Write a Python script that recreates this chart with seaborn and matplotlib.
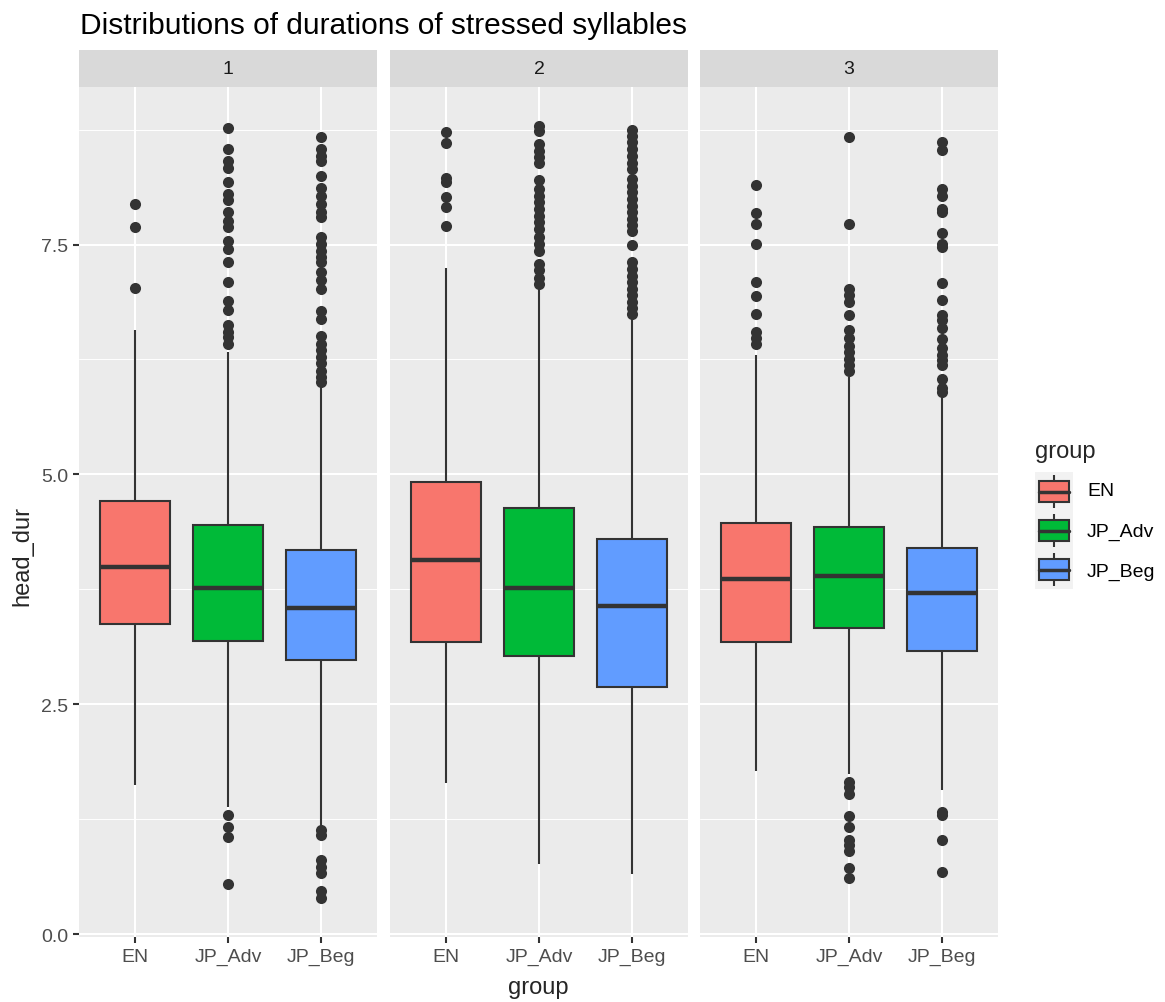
import numpy as np
import pandas as pd
import matplotlib
matplotlib.use("Agg")
import matplotlib.pyplot as plt
from matplotlib.patches import Rectangle
from matplotlib.ticker import MultipleLocator, FormatStrFormatter
import seaborn as sns

# ---------------------------------------------------------------- data
facets = ["1", "2", "3"]
groups = ["EN", "JP_Adv", "JP_Beg"]
group_colors = ["#F8766D", "#00BA38", "#619CFF"]

# box summaries per facet: lower whisker end, Q1, median, Q3, upper whisker end
box_1 = {
    "EN": [1.62, 3.37, 3.99, 4.71, 6.57],
    "JP_Adv": [1.38, 3.19, 3.76, 4.45, 6.33],
    "JP_Beg": [1.18, 2.98, 3.55, 4.18, 5.95],
}
box_2 = {
    "EN": [1.64, 3.18, 4.07, 4.92, 7.24],
    "JP_Adv": [0.76, 3.03, 3.76, 4.63, 7.02],
    "JP_Beg": [0.66, 2.69, 3.57, 4.30, 6.70],
}
box_3 = {
    "EN": [1.78, 3.18, 3.86, 4.47, 6.30],
    "JP_Adv": [1.74, 3.33, 3.90, 4.43, 6.06],
    "JP_Beg": [1.57, 3.08, 3.71, 4.20, 5.85],
}

# points beyond the whiskers
out_1 = {
    "EN": [7.94, 7.69, 7.03],
    "JP_Adv": [8.77, 8.54, 8.41, 8.33, 8.18, 8.05, 7.98, 7.85, 7.76, 7.69,
               7.54, 7.45, 7.31, 7.09, 6.89, 6.79, 6.62, 6.55, 6.50, 6.42,
               1.30, 1.17, 1.06, 0.55],
    "JP_Beg": [8.67, 8.54, 8.46, 8.41, 8.25, 8.12, 8.03, 7.94, 7.85, 7.80,
               7.58, 7.51, 7.43, 7.36, 7.31, 7.20, 7.11, 7.02, 6.78, 6.69,
               6.51, 6.42, 6.35, 6.28, 6.21, 6.13, 6.06, 6.01,
               1.13, 1.08, 0.81, 0.73, 0.67, 0.47, 0.39],
}
out_2 = {
    "EN": [8.72, 8.60, 8.22, 8.18, 8.02, 7.91, 7.70],
    "JP_Adv": [8.79, 8.74, 8.59, 8.52, 8.45, 8.39, 8.20, 8.10, 8.03, 7.96,
               7.89, 7.81, 7.74, 7.67, 7.58, 7.51, 7.43, 7.29, 7.22, 7.14,
               7.07],
    "JP_Beg": [8.75, 8.68, 8.61, 8.54, 8.46, 8.39, 8.32, 8.21, 8.14, 8.07,
               7.99, 7.92, 7.85, 7.78, 7.71, 7.65, 7.49, 7.31, 7.23, 7.16,
               7.09, 7.02, 6.95, 6.88, 6.81, 6.75],
}
out_3 = {
    "EN": [8.15, 7.84, 7.72, 7.51, 7.09, 6.94, 6.74, 6.55, 6.48, 6.42],
    "JP_Adv": [8.67, 7.72, 7.02, 6.95, 6.87, 6.73, 6.57, 6.48, 6.40, 6.33,
               6.26, 6.19, 6.12,
               1.66, 1.60, 1.53, 1.29, 1.17, 1.03, 0.97, 0.90, 0.72, 0.61],
    "JP_Beg": [8.61, 8.53, 8.10, 8.03, 7.89, 7.85, 7.63, 7.51, 7.47, 7.08,
               6.90, 6.73, 6.68, 6.59, 6.47, 6.37, 6.30, 6.24, 6.19, 6.04,
               5.94, 5.90,
               1.33, 1.30, 1.02, 0.68],
}

boxes = [box_1, box_2, box_3]
outs = [out_1, out_2, out_3]

box_df = pd.DataFrame(
    [(f, g, v) for f, b in zip(facets, boxes) for g in groups for v in b[g]],
    columns=["facet", "group", "head_dur"],
)
out_df = pd.DataFrame(
    [(f, g, v) for f, o in zip(facets, outs) for g in groups for v in o[g]],
    columns=["facet", "group", "head_dur"],
)

# ---------------------------------------------------------------- style
sns.set_theme(style="darkgrid", rc={
    "axes.facecolor": "#EBEBEB",
    "grid.color": "white",
    "axes.edgecolor": "none",
    "xtick.bottom": True,
    "ytick.left": True,
    "xtick.major.size": 4.5,
    "ytick.major.size": 4.5,
    "xtick.major.width": 1.5,
    "ytick.major.width": 1.5,
    "xtick.color": "#333333",
    "ytick.color": "#333333",
    "xtick.labelcolor": "#4D4D4D",
    "ytick.labelcolor": "#4D4D4D",
    "xtick.major.pad": 3.5,
    "ytick.major.pad": 3.5,
    "xtick.labelsize": 14,
    "ytick.labelsize": 14,
})
plt.rcParams["font.family"] = ["Liberation Sans", "DejaVu Sans"]

W, H = 1165, 1003
fig = plt.figure(figsize=(W / 100, H / 100), dpi=100)


def fx(px):
    return px / W


def fy(py):
    return 1 - py / H


all_vals = pd.concat([box_df["head_dur"], out_df["head_dur"]])
lo, hi = all_vals.min(), all_vals.max()
pad = 0.05 * (hi - lo)

panel_left = [79, 390, 700]
panel_w = 298
panel_top, panel_bot = 88.3, 938
strip_top = 50.7

panels = []
for i, f in enumerate(facets):
    ax = fig.add_axes([fx(panel_left[i]), fy(panel_bot), fx(panel_w),
                       (panel_bot - panel_top) / H])
    sns.boxplot(
        data=box_df[box_df["facet"] == f], x="group", y="head_dur",
        hue="group", order=groups, hue_order=groups, palette=group_colors,
        saturation=1, width=0.75, whis=(0, 100), showcaps=False,
        showfliers=False, linecolor="#333333", linewidth=1.5,
        medianprops={"linewidth": 3.2}, legend=False, ax=ax,
    )
    sns.stripplot(
        data=out_df[out_df["facet"] == f], x="group", y="head_dur",
        order=groups, jitter=False, color="#333333", size=8, linewidth=0,
        ax=ax,
    )
    ax.set_xlim(-0.6, len(groups) - 0.4)
    ax.set_ylim(lo - pad, hi + pad)
    ax.yaxis.set_major_locator(MultipleLocator(2.5))
    ax.yaxis.set_minor_locator(MultipleLocator(1.25))
    ax.yaxis.set_major_formatter(FormatStrFormatter("%.1f"))
    ax.grid(False)
    ax.yaxis.grid(True, which="major", color="white", linewidth=1.5)
    ax.yaxis.grid(True, which="minor", color="white", linewidth=0.7)
    ax.xaxis.grid(True, which="major", color="white", linewidth=1.5)
    ax.set_xlabel("")
    ax.set_ylabel("")
    for s in ax.spines.values():
        s.set_visible(False)
    panels.append(ax)

    # facet strip
    sax = fig.add_axes([fx(panel_left[i]), fy(panel_top), fx(panel_w),
                        (panel_top - strip_top) / H])
    sax.set_facecolor("#D9D9D9")
    sax.set_xticks([])
    sax.set_yticks([])
    sax.grid(False)
    for s in sax.spines.values():
        s.set_visible(False)
    sax.text(0.5, 0.5, f, ha="center", va="center", fontsize=14,
             color="#1A1A1A", transform=sax.transAxes)

# titles
fig.text(fx(80), fy(26), "Distributions of durations of stressed syllables",
         fontsize=21.5, color="black", ha="left", va="center")
fig.text(fx(538), fy(988), "group", fontsize=17, ha="center", va="center")
fig.text(fx(22), fy(556), "head_dur", fontsize=17, ha="center",
         va="center", rotation=90)

# legend
fig.text(fx(1035), fy(452), "group", fontsize=17, ha="left", va="center")
lax = fig.add_axes([fx(1035), fy(590), fx(38), 117 / H])
lax.set_facecolor("#F2F2F2")
lax.set_xlim(0, 1)
lax.set_ylim(0, len(groups))
lax.set_xticks([])
lax.set_yticks([])
lax.grid(False)
for s in lax.spines.values():
    s.set_visible(False)
for k, (g, c) in enumerate(zip(groups, group_colors)):
    yc = len(groups) - k - 0.5
    lax.plot([0.5, 0.5], [yc - 0.42, yc + 0.42], color="#333333", lw=1.5,
             solid_capstyle="butt")
    lax.add_patch(Rectangle((0.1, yc - 0.26), 0.8, 0.52, facecolor=c,
                            edgecolor="#333333", lw=1.5, zorder=3))
    lax.plot([0.1, 0.9], [yc, yc], color="#333333", lw=2.5, zorder=4)
    fig.text(fx(1087), fy(492 + 40 * k), g, fontsize=14, color="black",
             ha="left", va="center")

# tick marks on the outer panel edges
for i, ax in enumerate(panels):
    ax.set_zorder(3)
    ax.tick_params(which="minor", length=0)
    ax.tick_params(axis="x", which="major", bottom=True, length=4.5,
                   width=1.5, color="#333333", zorder=5)
    if i == 0:
        ax.tick_params(axis="y", which="major", left=True, length=4.5,
                       width=1.5, color="#333333", zorder=5)
    else:
        ax.tick_params(axis="y", which="both", left=False, labelleft=False)

fig.savefig("out.png", dpi=100)
